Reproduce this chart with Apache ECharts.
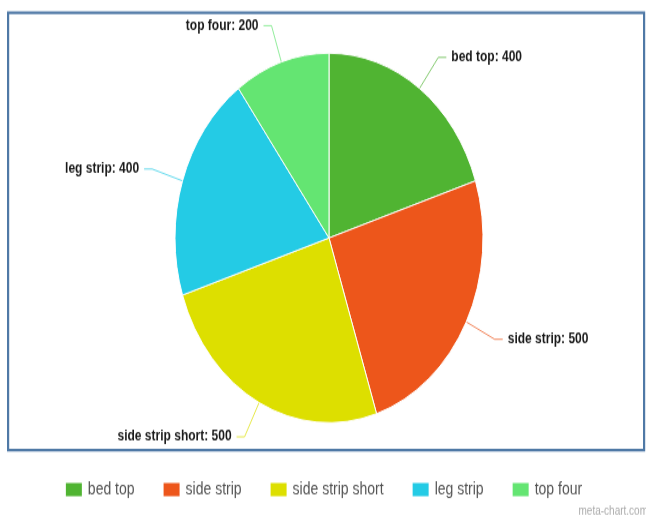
<!DOCTYPE html>
<html>
<head>
<meta charset="utf-8">
<script src="https://cdn.jsdelivr.net/npm/echarts@6/dist/echarts.min.js"></script>
<style>
html,body{margin:0;padding:0;background:#fff;}
#wrap{width:646px;height:522px;position:relative;overflow:hidden;}
#chart{position:absolute;left:0;top:0;width:646px;height:435px;transform:scaleY(1.2);transform-origin:0 0;}
</style>
</head>
<body>
<div id="wrap"><div id="chart"></div></div>
<script>
const categories = ['bed top', 'side strip', 'side strip short', 'leg strip', 'top four'];
const values = [400, 500, 500, 400, 200];
const colors = ['#50B432', '#ED561B', '#DDDF00', '#24CBE5', '#64E572'];

const chart = echarts.init(document.getElementById('chart'), null, {renderer: 'canvas'});
const option = {
  animation: false,
  color: colors,
  graphic: [
    {
      type: 'rect',
      left: 7, top: 9.5,
      shape: {width: 636, height: 364.5},
      style: {fill: '#fff', stroke: '#4f79a6', lineWidth: 2.2},
      z: -10
    },
    {
      type: 'text',
      right: -2, top: 421,
      style: {text: 'meta-chart.com', fill: '#aaa', font: '10px "Liberation Sans", Arial, sans-serif'}
    }
  ],
  legend: {
    data: categories,
    left: 'center',
    top: 395.5,
    itemWidth: 18,
    itemHeight: 13,
    itemGap: 27,
    icon: 'rect',
    textStyle: {fontFamily: '"Liberation Sans", Arial, sans-serif', fontSize: 14, color: '#555'}
  },
  series: [{
    type: 'pie',
    center: [329, 198.3],
    radius: [0, 154],
    startAngle: 90,
    clockwise: true,
    avoidLabelOverlap: false,
    itemStyle: {borderColor: '#fff', borderWidth: 1},
    label: {
      show: true,
      position: 'outside',
      formatter: '{b}: {c}',
      fontFamily: '"Liberation Sans", Arial, sans-serif',
      fontSize: 12,
      fontWeight: 'bold',
      color: '#1a1a1a'
    },
    labelLine: {show: true, length: 32, length2: 8, lineStyle: {width: 1, opacity: 0.7}},
    emphasis: {disabled: true},
    data: categories.map((c, i) => ({name: c, value: values[i]}))
  }]
};
chart.setOption(option);
</script>
</body>
</html>
